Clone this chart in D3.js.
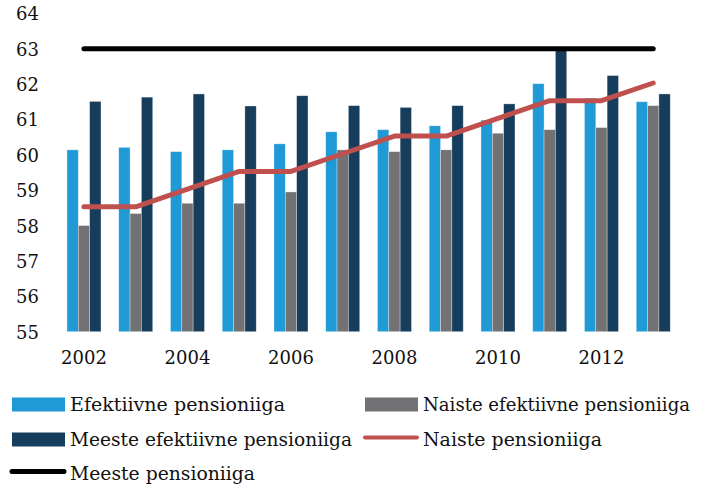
<!DOCTYPE html>
<html lang="et">

<head>
    <meta charset="UTF-8">
    <script src="https://d3js.org/d3.v7.min.js"></script>
    <title>Pensioniiga</title>
    <style>
        body { margin: 0; background: #fff; }
    </style>
</head>

<body>
    <div id="container"></div>
    <script>
        const width = 715, height = 486;

        // data
        const years = [2002, 2003, 2004, 2005, 2006, 2007, 2008, 2009, 2010, 2011, 2012, 2013];
        const efektiivne = [60.14, 60.21, 60.09, 60.14, 60.31, 60.65, 60.71, 60.82, 60.98, 62.01, 61.6, 61.5];
        const naisteEfektiivne = [58.0, 58.34, 58.63, 58.63, 58.95, 60.14, 60.09, 60.14, 60.61, 60.71, 60.77, 61.39];
        const meesteEfektiivne = [61.51, 61.63, 61.72, 61.38, 61.67, 61.39, 61.34, 61.39, 61.44, 63.0, 62.24, 61.72];
        const naistePension = [58.53, 58.53, 59.03, 59.53, 59.53, 60.03, 60.53, 60.53, 61.03, 61.53, 61.53, 62.03];
        const meestePension = [63, 63, 63, 63, 63, 63, 63, 63, 63, 63, 63, 63];
        const yTicks = [55, 56, 57, 58, 59, 60, 61, 62, 63, 64];
        const xTicks = [2002, 2004, 2006, 2008, 2010, 2012];

        const colors = {
            blue: "#1f9ad6",
            gray: "#727274",
            navy: "#163d5c",
            red: "#c0504d",
            black: "#000"
        };

        const svg = d3.select("#container")
            .append("svg")
            .attr("width", width)
            .attr("height", height);

        let x = d3.scaleBand()
            .domain(years)
            .range([58.1, 679.1]);
        let y = d3.scaleLinear()
            .domain([55, 64])
            .range([331.7, 13.3]);

        // bars inside one year
        let series = [
            { name: "Efektiivne pensioniiga", values: efektiivne, color: colors.blue },
            { name: "Naiste efektiivne pensioniiga", values: naisteEfektiivne, color: colors.gray },
            { name: "Meeste efektiivne pensioniiga", values: meesteEfektiivne, color: colors.navy }
        ];
        let inner = d3.scaleBand()
            .domain(series.map(s => s.name))
            .range([0, x.bandwidth() * 0.657]);
        let offset = (x.bandwidth() - inner.range()[1]) / 2;

        // y tick labels
        svg.append("g")
            .attr("text-anchor", "end")
            .attr("font-family", "DejaVu Serif")
            .attr("font-size", 18)
            .attr("fill", "#111")
            .selectAll("text")
            .data(yTicks)
            .enter()
            .append("text")
            .attr("x", 39)
            .attr("y", d => y(d) + 7)
            .text(d => d);

        // x tick labels
        svg.append("g")
            .attr("text-anchor", "middle")
            .attr("font-family", "DejaVu Serif")
            .attr("font-size", 18)
            .attr("fill", "#111")
            .selectAll("text")
            .data(xTicks)
            .enter()
            .append("text")
            .attr("x", d => x(d) + x.bandwidth() / 2)
            .attr("y", 364)
            .text(d => d);

        series.forEach(s => {
            svg.append("g")
                .selectAll("rect")
                .data(years)
                .enter()
                .append("rect")
                .attr("x", d => x(d) + offset + inner(s.name))
                .attr("y", (d, i) => y(s.values[i]))
                .attr("width", inner.bandwidth())
                .attr("height", (d, i) => y(55) - y(s.values[i]))
                .attr("fill", s.color)
                .attr("stroke", "#fff")
                .attr("stroke-opacity", 0.45)
                .attr("stroke-width", 0.7);
        });

        // lines
        let line = values => d3.line()
            .x(d => x(d) + x.bandwidth() / 2)
            .y((d, i) => y(values[i]))(years);

        svg.append("path")
            .attr("d", line(naistePension))
            .attr("fill", "none")
            .attr("stroke", colors.red)
            .attr("stroke-width", 5)
            .attr("stroke-linecap", "round")
            .attr("stroke-linejoin", "round");
        svg.append("path")
            .attr("d", line(meestePension))
            .attr("fill", "none")
            .attr("stroke", colors.black)
            .attr("stroke-width", 5)
            .attr("stroke-linecap", "round");

        // legend
        let legend = [
            { name: "Efektiivne pensioniiga", type: "rect", color: colors.blue, x: 12, y: 411, w: 215 },
            { name: "Naiste efektiivne pensioniiga", type: "rect", color: colors.gray, x: 365, y: 411, w: 267 },
            { name: "Meeste efektiivne pensioniiga", type: "rect", color: colors.navy, x: 12, y: 446, w: 282 },
            { name: "Naiste pensioniiga", type: "line", color: colors.red, x: 365, y: 446, w: 179 },
            { name: "Meeste pensioniiga", type: "line", color: colors.black, x: 12, y: 480, w: 185 }
        ];
        let lg = svg.append("g");
        legend.forEach(d => {
            if (d.type == "rect") {
                lg.append("rect")
                    .attr("x", d.x)
                    .attr("y", d.y - 13.5)
                    .attr("width", 53)
                    .attr("height", 14)
                    .attr("fill", d.color);
            } else {
                lg.append("line")
                    .attr("x1", d.x)
                    .attr("x2", d.x + 52)
                    .attr("y1", d.y - 8.5)
                    .attr("y2", d.y - 8.5)
                    .attr("stroke", d.color)
                    .attr("stroke-width", d.color == colors.black ? 5 : 4)
                    .attr("stroke-linecap", "round");
            }
            lg.append("text")
                .attr("x", d.x + 58)
                .attr("y", d.y)
                .attr("font-family", "DejaVu Serif")
                .attr("font-size", 18)
                .attr("fill", "#111")
                .attr("textLength", d.w)
                .attr("lengthAdjust", "spacingAndGlyphs")
                .text(d.name);
        });
    </script>
</body>

</html>
